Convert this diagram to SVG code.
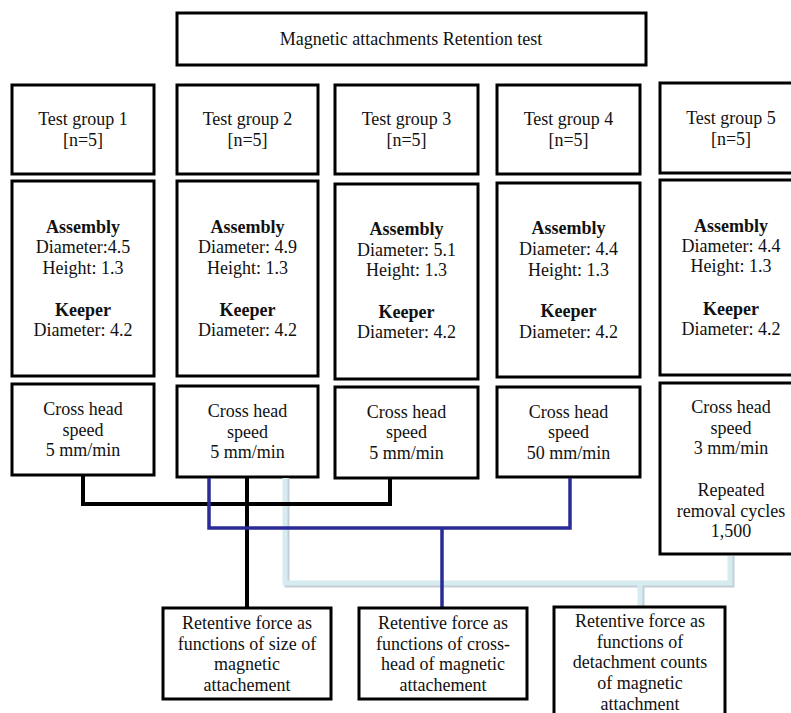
<svg xmlns="http://www.w3.org/2000/svg" width="791" height="713" viewBox="0 0 791 713">
<style>
  .box{fill:#fff;stroke:#000;stroke-width:3}
  text{font-size:18px;fill:#111;text-anchor:middle}
  .b{font-weight:bold}
  .k{fill:none;stroke:#000;stroke-width:4}
  .bl{fill:none;stroke:#2b2b98;stroke-width:3.5}
  .lb{fill:none;stroke:#d6ecf1;stroke-width:5}
  .lbs{fill:none;stroke:#c3cfd4;stroke-width:5}
</style>
<rect width="791" height="713" fill="#fff"/>
<g font-family="Liberation Serif, DejaVu Serif, serif">
<g id="title">
  <rect class="box" x="177" y="13" width="469" height="52"/>
  <text x="411" y="45">Magnetic attachments Retention test</text>
</g>
<g id="g1">
  <rect class="box" x="12" y="85" width="142" height="89"/>
  <text x="83" y="125">Test group 1</text><text x="83" y="146">[n=5]</text>
</g>
<g id="g2">
  <rect class="box" x="177" y="85" width="141" height="89"/>
  <text x="247.5" y="125">Test group 2</text><text x="247.5" y="146">[n=5]</text>
</g>
<g id="g3">
  <rect class="box" x="335" y="85" width="143" height="89"/>
  <text x="406.5" y="125">Test group 3</text><text x="406.5" y="146">[n=5]</text>
</g>
<g id="g4">
  <rect class="box" x="497" y="85" width="143" height="89"/>
  <text x="568.5" y="125">Test group 4</text><text x="568.5" y="146">[n=5]</text>
</g>
<g id="g5">
  <rect class="box" x="660" y="83" width="142" height="90"/>
  <text x="731" y="124">Test group 5</text><text x="731" y="145">[n=5]</text>
</g>
<g id="a1">
  <rect class="box" x="12" y="181" width="142" height="195"/>
  <text class="b" x="83" y="233">Assembly</text><text x="83" y="253">Diameter:4.5</text><text x="83" y="274">Height: 1.3</text>
  <text class="b" x="83" y="316">Keeper</text><text x="83" y="336">Diameter: 4.2</text>
</g>
<g id="a2">
  <rect class="box" x="177" y="181" width="141" height="195"/>
  <text class="b" x="247.5" y="233">Assembly</text><text x="247.5" y="253">Diameter: 4.9</text><text x="247.5" y="274">Height: 1.3</text>
  <text class="b" x="247.5" y="316">Keeper</text><text x="247.5" y="336">Diameter: 4.2</text>
</g>
<g id="a3">
  <rect class="box" x="335" y="184" width="143" height="195"/>
  <text class="b" x="406.5" y="235">Assembly</text><text x="406.5" y="256">Diameter: 5.1</text><text x="406.5" y="276">Height: 1.3</text>
  <text class="b" x="406.5" y="318">Keeper</text><text x="406.5" y="338">Diameter: 4.2</text>
</g>
<g id="a4">
  <rect class="box" x="497" y="183" width="143" height="194"/>
  <text class="b" x="568.5" y="234">Assembly</text><text x="568.5" y="255">Diameter: 4.4</text><text x="568.5" y="276">Height: 1.3</text>
  <text class="b" x="568.5" y="317">Keeper</text><text x="568.5" y="338">Diameter: 4.2</text>
</g>
<g id="a5">
  <rect class="box" x="660" y="180" width="142" height="195"/>
  <text class="b" x="731" y="232">Assembly</text><text x="731" y="252">Diameter: 4.4</text><text x="731" y="272">Height: 1.3</text>
  <text class="b" x="731" y="315">Keeper</text><text x="731" y="335">Diameter: 4.2</text>
</g>
<g id="c1">
  <rect class="box" x="12" y="384" width="142" height="91"/>
  <text x="83" y="415">Cross head</text><text x="83" y="436">speed</text><text x="83" y="456">5 mm/min</text>
</g>
<g id="c2">
  <rect class="box" x="177" y="386" width="141" height="91"/>
  <text x="247.5" y="417">Cross head</text><text x="247.5" y="438">speed</text><text x="247.5" y="458">5 mm/min</text>
</g>
<g id="c3">
  <rect class="box" x="335" y="387" width="143" height="91"/>
  <text x="406.5" y="418">Cross head</text><text x="406.5" y="438">speed</text><text x="406.5" y="459">5 mm/min</text>
</g>
<g id="c4">
  <rect class="box" x="497" y="387" width="143" height="90"/>
  <text x="568.5" y="418">Cross head</text><text x="568.5" y="438">speed</text><text x="568.5" y="459">50 mm/min</text>
</g>
<g id="c5">
  <rect class="box" x="660" y="383" width="142" height="171"/>
  <text x="731" y="413">Cross head</text><text x="731" y="434">speed</text><text x="731" y="454">3 mm/min</text>
  <text x="731" y="496">Repeated</text><text x="731" y="517">removal cycles</text><text x="731" y="537">1,500</text>
</g>
<g id="connectors">
  <path class="lbs" d="M287 478 V585 H732 V556 M642 585 V608"/>
  <path class="lb" d="M285 478 V583 H730 V556 M640 583 V607"/>
  <path class="k" d="M83 476 V504 H390 V479 M247 478 V608"/>
  <path class="bl" d="M209 478 V528 H570 V478 M442 528 V608"/>
</g>
<g id="r1">
  <rect class="box" x="163" y="608" width="168" height="91"/>
  <text x="247" y="629">Retentive force as</text><text x="247" y="650">functions of size of</text><text x="247" y="670">magnetic</text><text x="247" y="691">attachement</text>
</g>
<g id="r2">
  <rect class="box" x="359" y="608" width="168" height="91"/>
  <text x="443" y="629">Retentive force as</text><text x="443" y="650">functions of cross-</text><text x="443" y="670">head of magnetic</text><text x="443" y="691">attachement</text>
</g>
<g id="r3">
  <rect class="box" x="554" y="607" width="171" height="115"/>
  <text x="640" y="627">Retentive force as</text><text x="640" y="648">functions of</text><text x="640" y="668">detachment counts</text><text x="640" y="689">of magnetic</text><text x="640" y="710">attachment</text>
</g>
</g>
</svg>
